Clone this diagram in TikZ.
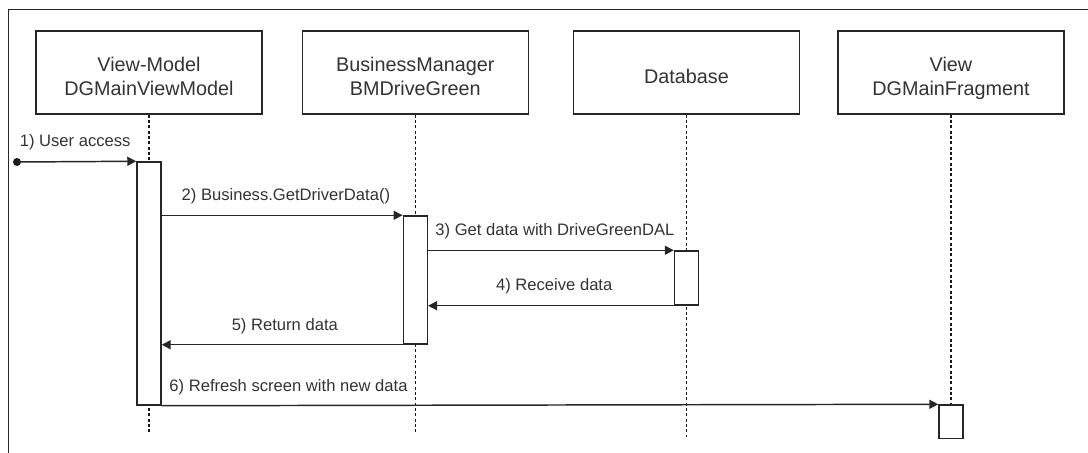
\documentclass[tikz,border=0pt]{standalone}
\usepackage{fontspec}
\setmainfont{Liberation Sans}
\usetikzlibrary{arrows.meta}
\begin{document}
\begin{tikzpicture}[x=0.75pt,y=-0.75pt,
  participant/.style={draw=black!85, line width=1.1pt, fill=white,
    minimum width=169.5pt, minimum height=62.25pt},
  ptext/.style={anchor=north, inner sep=0pt, align=center,
    text=black!80, font=\fontsize{14.85}{18}\selectfont},
  activation/.style={draw=black!85, line width=1.1pt, fill=white,
    minimum width=18pt, inner sep=0pt},
  lifeline/.style={draw=black!90, line width=0.9pt, dash pattern=on 2.25pt off 1.75pt},
  msg/.style={draw=black!85, line width=1.1pt, -{Triangle[length=6.75pt,width=6.75pt]}},
  lbl/.style={inner sep=0pt, text=black!80, font=\fontsize{12.45}{15}\selectfont},
  frameline/.style={draw=black!85, line width=1.2pt}]

\useasboundingbox (0,0) rectangle (1088,453);

% outer frame (top and left edges)
\draw[frameline] (1088,9.5) -- (8.5,9.5) -- (8.5,453);

% participants
\node[participant] (vm) at (149,72.5) {};
\node[participant] (bm) at (415.3,72.5) {};
\node[participant] (db) at (686.5,72.5) {};
\node[participant] (vw) at (951,72.5) {};

% participant names
\node[ptext] (vmName) at ([yshift=12pt]vm.center) {View-Model\\DGMainViewModel};
\node[ptext] (bmName) at ([yshift=12pt]bm.center) {BusinessManager\\BMDriveGreen};
\node[ptext] (dbName) at ([yshift=3pt]db.center) {Database};
\node[ptext] (vwName) at ([yshift=12pt]vw.center) {View\\DGMainFragment};

% lifeline ends
\coordinate (vmEnd) at (149,432);
\coordinate (bmEnd) at (415.3,432);
\coordinate (dbEnd) at (686.5,437);
\coordinate (vwEnd) at (951,440);

\draw[lifeline] (vm.south) -- (vmEnd);
\draw[lifeline] (bm.south) -- (bmEnd);
\draw[lifeline] (db.south) -- (dbEnd);
\draw[lifeline] (vw.south) -- (vwEnd);

% activation bars
\node[activation, minimum height=182.25pt] (a1) at (149,283.5) {};
\node[activation, minimum height=96pt] (a2) at (415.3,280) {};
\node[activation, minimum height=40.5pt] (a3) at (686.5,278) {};
\node[activation, minimum height=25.1pt] (a4) at (951,421.75) {};

% initial call
\coordinate (start) at (17,162);
\fill[black!90] (start) circle (3pt);
\draw[msg] (start) -- (a1.north west)
  node[lbl, midway, yshift=14.25pt, xshift=-1.1pt] {1) User access};

% messages
\draw[msg] (a1.east |- a2.north west) -- (a2.north west)
  node[lbl, midway, yshift=14.25pt, xshift=2.8pt] {2) Business.GetDriverData()};
\draw[msg] (a2.east |- a3.north west) -- (a3.north west)
  node[lbl, midway, yshift=14pt, xshift=3pt] {3) Get data with DriveGreenDAL};
\draw[msg] (a3.south west) -- (a2.east |- a3.south west)
  node[lbl, midway, yshift=15pt, xshift=2.5pt] {4) Receive data};
\draw[msg] (a2.south west) -- (a1.east |- a2.south west)
  node[lbl, midway, yshift=14.25pt, xshift=2pt] {5) Return data};
\draw[msg] (a1.south east) -- (a4.north west)
  node[lbl, pos=0, anchor=west, yshift=14pt, xshift=5.25pt] {6) Refresh screen with new data};

\end{tikzpicture}
\end{document}
